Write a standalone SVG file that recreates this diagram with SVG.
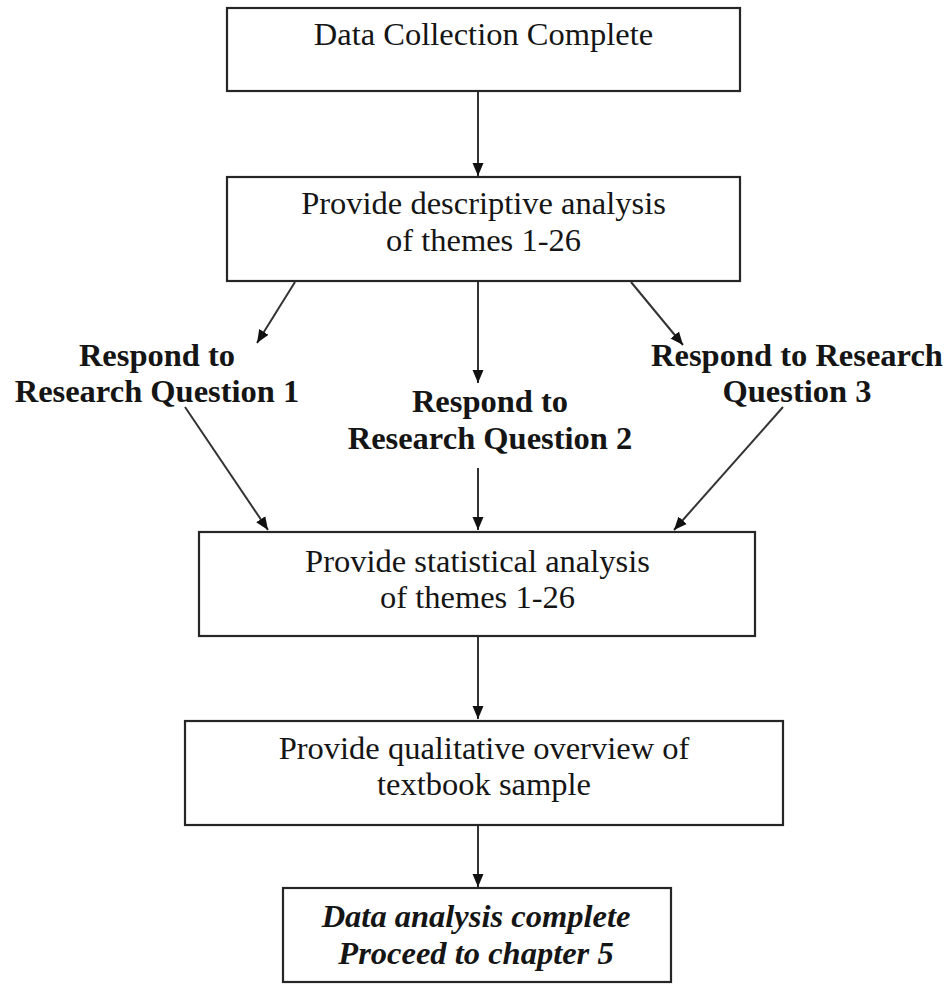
<svg xmlns="http://www.w3.org/2000/svg" width="951" height="984" viewBox="0 0 951 984">
  <style>
    .box { fill: #ffffff; stroke: #262626; stroke-width: 2.2; }
    .txt { font-family: "Liberation Serif", "Times New Roman", serif; font-size: 32.5px; fill: #151515; text-anchor: middle; }
    .bold { font-weight: bold; }
    .ital { font-style: italic; font-weight: bold; }
    .edge { stroke: #333333; stroke-width: 2; fill: none; marker-end: url(#arrow); }
  </style>
  <defs>
    <marker id="arrow" markerUnits="userSpaceOnUse" markerWidth="14" markerHeight="14" viewBox="0 0 14 14" refX="13" refY="7" orient="auto">
      <path d="M0,1.5 L13,7 L0,12.5 Z" fill="#111111"/>
    </marker>
  </defs>
  <rect width="951" height="984" fill="#ffffff"/>

  <!-- connectors -->
  <g id="connectors">
    <line class="edge" x1="478" y1="92" x2="478" y2="176"/>
    <line class="edge" x1="295" y1="282" x2="257" y2="343"/>
    <line class="edge" x1="478" y1="282" x2="478" y2="383"/>
    <line class="edge" x1="631" y1="282" x2="683" y2="345"/>
    <line class="edge" x1="185" y1="407" x2="268" y2="530"/>
    <line class="edge" x1="478" y1="468" x2="478" y2="530"/>
    <line class="edge" x1="783" y1="407" x2="674" y2="530"/>
    <line class="edge" x1="478" y1="637" x2="478" y2="719"/>
    <line class="edge" x1="478" y1="826" x2="478" y2="887"/>
  </g>

  <!-- process boxes -->
  <g id="data-collection">
    <rect class="box" x="227" y="8" width="513" height="83"/>
    <text class="txt" x="483.5" y="45">Data Collection Complete</text>
  </g>

  <g id="descriptive-analysis">
    <rect class="box" x="227" y="177" width="513" height="104"/>
    <text class="txt" x="483.5" y="214">Provide descriptive analysis</text>
    <text class="txt" x="483.5" y="251">of themes 1-26</text>
  </g>

  <g id="question-1">
    <text class="txt bold" x="157" y="366">Respond to</text>
    <text class="txt bold" x="157" y="402">Research Question 1</text>
  </g>

  <g id="question-2">
    <text class="txt bold" x="490" y="412">Respond to</text>
    <text class="txt bold" x="490" y="449">Research Question 2</text>
  </g>

  <g id="question-3">
    <text class="txt bold" x="797" y="366">Respond to Research</text>
    <text class="txt bold" x="797" y="402">Question 3</text>
  </g>

  <g id="statistical-analysis">
    <rect class="box" x="199" y="532" width="556" height="104"/>
    <text class="txt" x="477.5" y="572">Provide statistical analysis</text>
    <text class="txt" x="477.5" y="608">of themes 1-26</text>
  </g>

  <g id="qualitative-overview">
    <rect class="box" x="185" y="721" width="598" height="104"/>
    <text class="txt" x="484" y="759">Provide qualitative overview of</text>
    <text class="txt" x="484" y="795">textbook sample</text>
  </g>

  <g id="analysis-complete">
    <rect class="box" x="283" y="888" width="388" height="94"/>
    <text class="txt ital" x="476" y="927">Data analysis complete</text>
    <text class="txt ital" x="476" y="964">Proceed to chapter 5</text>
  </g>
</svg>
